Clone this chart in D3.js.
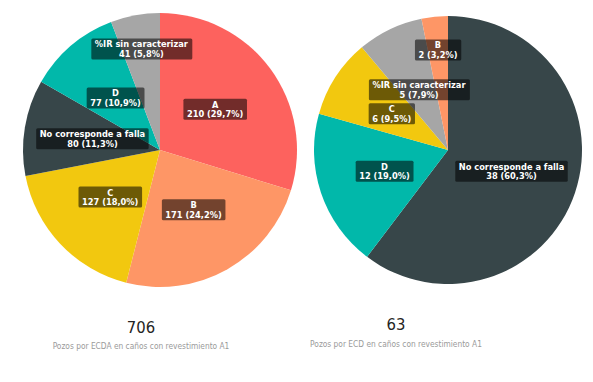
<!DOCTYPE html>
<html><head><meta charset="utf-8">
<script src="https://cdn.jsdelivr.net/npm/d3@7"></script>
<style>
html,body{margin:0;padding:0;background:#fff;}
svg{display:block;}
</style></head>
<body>
<svg id="chart" width="593" height="382"></svg>
<script>
// Left pie: Pozos por ECDA
const leftCategories = ["A", "B", "C", "No corresponde a falla", "D", "%IR sin caracterizar"];
const leftValues = [210, 171, 127, 80, 77, 41];
const leftTotalLabel = "706";
const leftSubtitle = "Pozos por ECDA en caños con revestimiento A1";

// Right pie: Pozos por ECD
const rightCategories = ["No corresponde a falla", "D", "C", "%IR sin caracterizar", "B"];
const rightValues = [38, 12, 6, 5, 2];
const rightTotalLabel = "63";
const rightSubtitle = "Pozos por ECD en caños con revestimiento A1";

const colorDomain = ["A", "B", "C", "No corresponde a falla", "D", "%IR sin caracterizar"];
const colorRange = ["#FD625E", "#FE9666", "#F2C80F", "#374649", "#01B8AA", "#A6A6A6"];
const color = d3.scaleOrdinal().domain(colorDomain).range(colorRange);

const svg = d3.select("#chart");
const FONT = "'DejaVu Sans Condensed', 'DejaVu Sans', sans-serif";

function fmtPct(v) {
  return d3.format(".1f")(v).replace(".", ",") + "%";
}

function drawPie(cats, vals, cx, cy, r) {
  const data = cats.map((c, i) => ({cat: c, value: vals[i]}));
  const total = d3.sum(vals);
  const pie = d3.pie().value(d => d.value).sort(null);
  const arcs = pie(data);
  const g = svg.append("g").attr("transform", `translate(${cx},${cy})`);
  const arc = d3.arc().innerRadius(0).outerRadius(r);
  g.selectAll("path.slice").data(arcs).enter().append("path")
    .attr("class", "slice")
    .attr("d", arc)
    .attr("fill", d => color(d.data.cat));

  const lg = g.append("g");
  arcs.forEach(a => {
    const pct = a.data.value / total * 100;
    const lr = pct < 7 ? r * 0.75 : r * 0.5;
    const c = d3.arc().innerRadius(lr).outerRadius(lr).centroid(a);
    const grp = lg.append("g").attr("transform", `translate(${c[0]},${c[1]})`);
    const rect = grp.append("rect").attr("fill", "rgba(0,0,0,0.55)").attr("rx", 1.5);
    const t = grp.append("text")
      .attr("text-anchor", "middle")
      .attr("font-family", FONT)
      .attr("font-size", 9.2)
      .attr("font-weight", "bold")
      .attr("fill", "#fff");
    t.append("tspan").attr("x", 0).attr("y", -1.5).text(a.data.cat);
    t.append("tspan").attr("x", 0).attr("y", 8).text(`${a.data.value} (${fmtPct(pct)})`);
    const bb = t.node().getBBox();
    rect.attr("x", bb.x - 3.5).attr("y", -10.5).attr("width", bb.width + 7).attr("height", 21);
  });
}

function drawCard(cx, totalLabel, subtitle, numY, subY) {
  svg.append("text")
    .attr("x", cx).attr("y", numY)
    .attr("text-anchor", "middle")
    .attr("font-family", FONT)
    .attr("font-size", 16.5)
    .attr("fill", "#252423")
    .text(totalLabel);
  svg.append("text")
    .attr("x", cx).attr("y", subY)
    .attr("text-anchor", "middle")
    .attr("font-family", FONT)
    .attr("font-size", 8.3)
    .attr("fill", "#9a9a9a")
    .text(subtitle);
}

drawPie(leftCategories, leftValues, 160, 150, 137);
drawPie(rightCategories, rightValues, 448, 150, 134);
drawCard(141, leftTotalLabel, leftSubtitle, 333, 349);
drawCard(396, rightTotalLabel, rightSubtitle, 330, 347);
</script>
</body></html>
